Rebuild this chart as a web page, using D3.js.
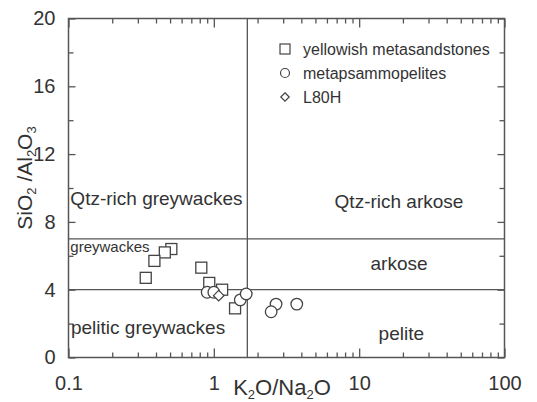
<!DOCTYPE html>
<html>
<head>
<meta charset="utf-8">
<script src="https://cdn.jsdelivr.net/npm/d3@7"></script>
<style>
  body { margin: 0; background: #fff; }
  svg text { font-family: "Liberation Sans", Arial, sans-serif; fill: #333; }
</style>
</head>
<body>
<svg id="chart" width="537" height="402"></svg>
<script>
// data: K2O/Na2O (x, log) vs SiO2/Al2O3 (y)
var metasandstonesX = [0.51, 0.46, 0.39, 0.34, 0.82, 0.93, 1.14, 1.40];
var metasandstonesY = [6.4, 6.2, 5.7, 4.7, 5.3, 4.4, 4.0, 2.9];
var metapsammoX = [0.90, 1.00, 1.52, 1.67, 2.68, 2.48, 3.72];
var metapsammoY = [3.85, 3.85, 3.4, 3.75, 3.15, 2.7, 3.15];
var l80hX = [1.08];
var l80hY = [3.65];

var xTicks = [0.1, 1, 10, 100];
var yTicks = [0, 4, 8, 12, 16, 20];
var legendLabels = ['yellowish metasandstones', 'metapsammopelites', 'L80H'];
var regionLabels = ['Qtz-rich greywackes', 'Qtz-rich arkose', 'greywackes', 'arkose', 'pelitic greywackes', 'pelite'];
var boundaryX = 1.7;
var boundaryY = [4, 7];

var svg = d3.select('#chart');
var plotL = 68.5, plotR = 504.5, plotT = 18.5, plotB = 357.5;
var ink = '#555';

var x = d3.scaleLog().domain([0.1, 100]).range([plotL, plotR]);
var y = d3.scaleLinear().domain([0, 20]).range([plotB, plotT]);

// minor ticks on the log axis
var xMinor = [];
[0.1, 1, 10].forEach(function (d) {
    for (var k = 2; k <= 9; k++) xMinor.push(d * k);
});
var yMinor = d3.range(2, 20, 4);

// boundary lines
var g = svg.append('g');
g.append('line')
    .attr('x1', x(boundaryX)).attr('x2', x(boundaryX))
    .attr('y1', y(0)).attr('y2', y(20))
    .attr('stroke', ink).attr('stroke-width', 1.3);
boundaryY.forEach(function (v) {
    g.append('line')
        .attr('x1', x(0.1)).attr('x2', x(100))
        .attr('y1', y(v)).attr('y2', y(v))
        .attr('stroke', ink).attr('stroke-width', 1.3);
});

// axes, ticks all inward and mirrored
function styleAxis(sel) {
    sel.select('.domain').remove();
    sel.selectAll('line').attr('stroke', ink).attr('stroke-width', 1.3);
    sel.selectAll('text').attr('fill', '#333');
}

svg.append('g').attr('transform', 'translate(0,' + plotB + ')')
    .call(d3.axisBottom(x).tickValues(xTicks).tickSize(-9).tickPadding(18).tickFormat(d3.format('')))
    .call(styleAxis)
    .selectAll('text').style('font-size', '20px').style('font-family', '"Liberation Sans", Arial, sans-serif');
svg.append('g').attr('transform', 'translate(0,' + plotB + ')')
    .call(d3.axisBottom(x).tickValues(xMinor).tickSize(-5).tickFormat(''))
    .call(styleAxis);
svg.append('g').attr('transform', 'translate(0,' + plotT + ')')
    .call(d3.axisTop(x).tickValues(xTicks).tickSize(-9).tickFormat(''))
    .call(styleAxis);
svg.append('g').attr('transform', 'translate(0,' + plotT + ')')
    .call(d3.axisTop(x).tickValues(xMinor).tickSize(-5).tickFormat(''))
    .call(styleAxis);

svg.append('g').attr('transform', 'translate(' + plotL + ',0)')
    .call(d3.axisLeft(y).tickValues(yTicks).tickSize(-7).tickPadding(13))
    .call(styleAxis)
    .selectAll('text').style('font-size', '20px').style('font-family', '"Liberation Sans", Arial, sans-serif');
svg.append('g').attr('transform', 'translate(' + plotL + ',0)')
    .call(d3.axisLeft(y).tickValues(yMinor).tickSize(-5).tickFormat(''))
    .call(styleAxis);
svg.append('g').attr('transform', 'translate(' + plotR + ',0)')
    .call(d3.axisRight(y).tickValues(yTicks).tickSize(-7).tickFormat(''))
    .call(styleAxis);
svg.append('g').attr('transform', 'translate(' + plotR + ',0)')
    .call(d3.axisRight(y).tickValues(yMinor).tickSize(-5).tickFormat(''))
    .call(styleAxis);

svg.append('rect')
    .attr('x', plotL).attr('y', plotT)
    .attr('width', plotR - plotL).attr('height', plotB - plotT)
    .attr('fill', 'none').attr('stroke', ink).attr('stroke-width', 1.5);

// region labels: [x, y, font size, anchor]
var regionPos = [
    [0.103, 9.0, 19, 'start'], [18.8, 8.82, 19, 'middle'], [0.103, 6.2, 15, 'start'],
    [18.8, 5.16, 19, 'middle'], [0.104, 1.4, 19, 'start'], [19.5, 1.03, 19, 'middle']
];
svg.append('g').selectAll('text')
    .data(regionLabels)
    .join('text')
    .attr('x', function (d, i) { return x(regionPos[i][0]); })
    .attr('y', function (d, i) { return y(regionPos[i][1]); })
    .attr('text-anchor', function (d, i) { return regionPos[i][3]; })
    .style('font-size', function (d, i) { return regionPos[i][2] + 'px'; })
    .text(function (d) { return d; });

// symbols
var stroke = '#444';
function zip(xs, ys) { return xs.map(function (d, i) { return [d, ys[i]]; }); }

svg.append('g').selectAll('rect')
    .data(zip(metasandstonesX, metasandstonesY))
    .join('rect')
    .attr('x', function (d) { return x(d[0]) - 5.5; })
    .attr('y', function (d) { return y(d[1]) - 5.5; })
    .attr('width', 11).attr('height', 11)
    .attr('fill', '#fff').attr('stroke', stroke).attr('stroke-width', 1.3);

svg.append('g').selectAll('circle')
    .data(zip(metapsammoX, metapsammoY))
    .join('circle')
    .attr('cx', function (d) { return x(d[0]); })
    .attr('cy', function (d) { return y(d[1]); })
    .attr('r', 5.8)
    .attr('fill', '#fff').attr('stroke', stroke).attr('stroke-width', 1.3);

var diamond = d3.symbol().type(d3.symbolDiamond2).size(70);
svg.append('g').selectAll('path')
    .data(zip(l80hX, l80hY))
    .join('path')
    .attr('transform', function (d) { return 'translate(' + x(d[0]) + ',' + y(d[1]) + ')'; })
    .attr('d', diamond)
    .attr('fill', '#fff').attr('stroke', stroke).attr('stroke-width', 1.3);

// legend
var legend = svg.append('g').attr('transform', 'translate(285,49)');
var rows = legend.selectAll('g').data(legendLabels).join('g')
    .attr('transform', function (d, i) { return 'translate(0,' + (i * 24) + ')'; });
rows.filter(function (d, i) { return i === 0; }).append('rect')
    .attr('x', -5).attr('y', -5).attr('width', 10).attr('height', 10);
rows.filter(function (d, i) { return i === 1; }).append('circle').attr('r', 4.5);
rows.filter(function (d, i) { return i === 2; }).append('path')
    .attr('d', d3.symbol().type(d3.symbolDiamond2).size(45));
rows.selectAll('rect, circle, path')
    .attr('fill', '#fff').attr('stroke', stroke).attr('stroke-width', 1.2);
rows.append('text')
    .attr('x', 18).attr('dy', '0.35em')
    .style('font-size', '16px')
    .text(function (d) { return d; });

// axis titles
var xt = svg.append('text')
    .attr('x', 282).attr('y', 395)
    .attr('text-anchor', 'middle')
    .style('font-size', '22px');
xt.append('tspan').text('K');
xt.append('tspan').text('2').style('font-size', '13px').attr('dy', 3.5);
xt.append('tspan').text('O/Na').attr('dy', -3.5);
xt.append('tspan').text('2').style('font-size', '13px').attr('dy', 3.5);
xt.append('tspan').text('O').attr('dy', -3.5);

var yt = svg.append('text')
    .attr('transform', 'translate(32,178) rotate(-90)')
    .attr('text-anchor', 'middle')
    .style('font-size', '21px');
yt.append('tspan').text('SiO');
yt.append('tspan').text('2').style('font-size', '13px').attr('dy', 4);
yt.append('tspan').text(' /Al').attr('dy', -4);
yt.append('tspan').text('2').style('font-size', '13px').attr('dy', 4);
yt.append('tspan').text('O').attr('dy', -4);
yt.append('tspan').text('3').style('font-size', '13px').attr('dy', 4);
</script>
</body>
</html>
